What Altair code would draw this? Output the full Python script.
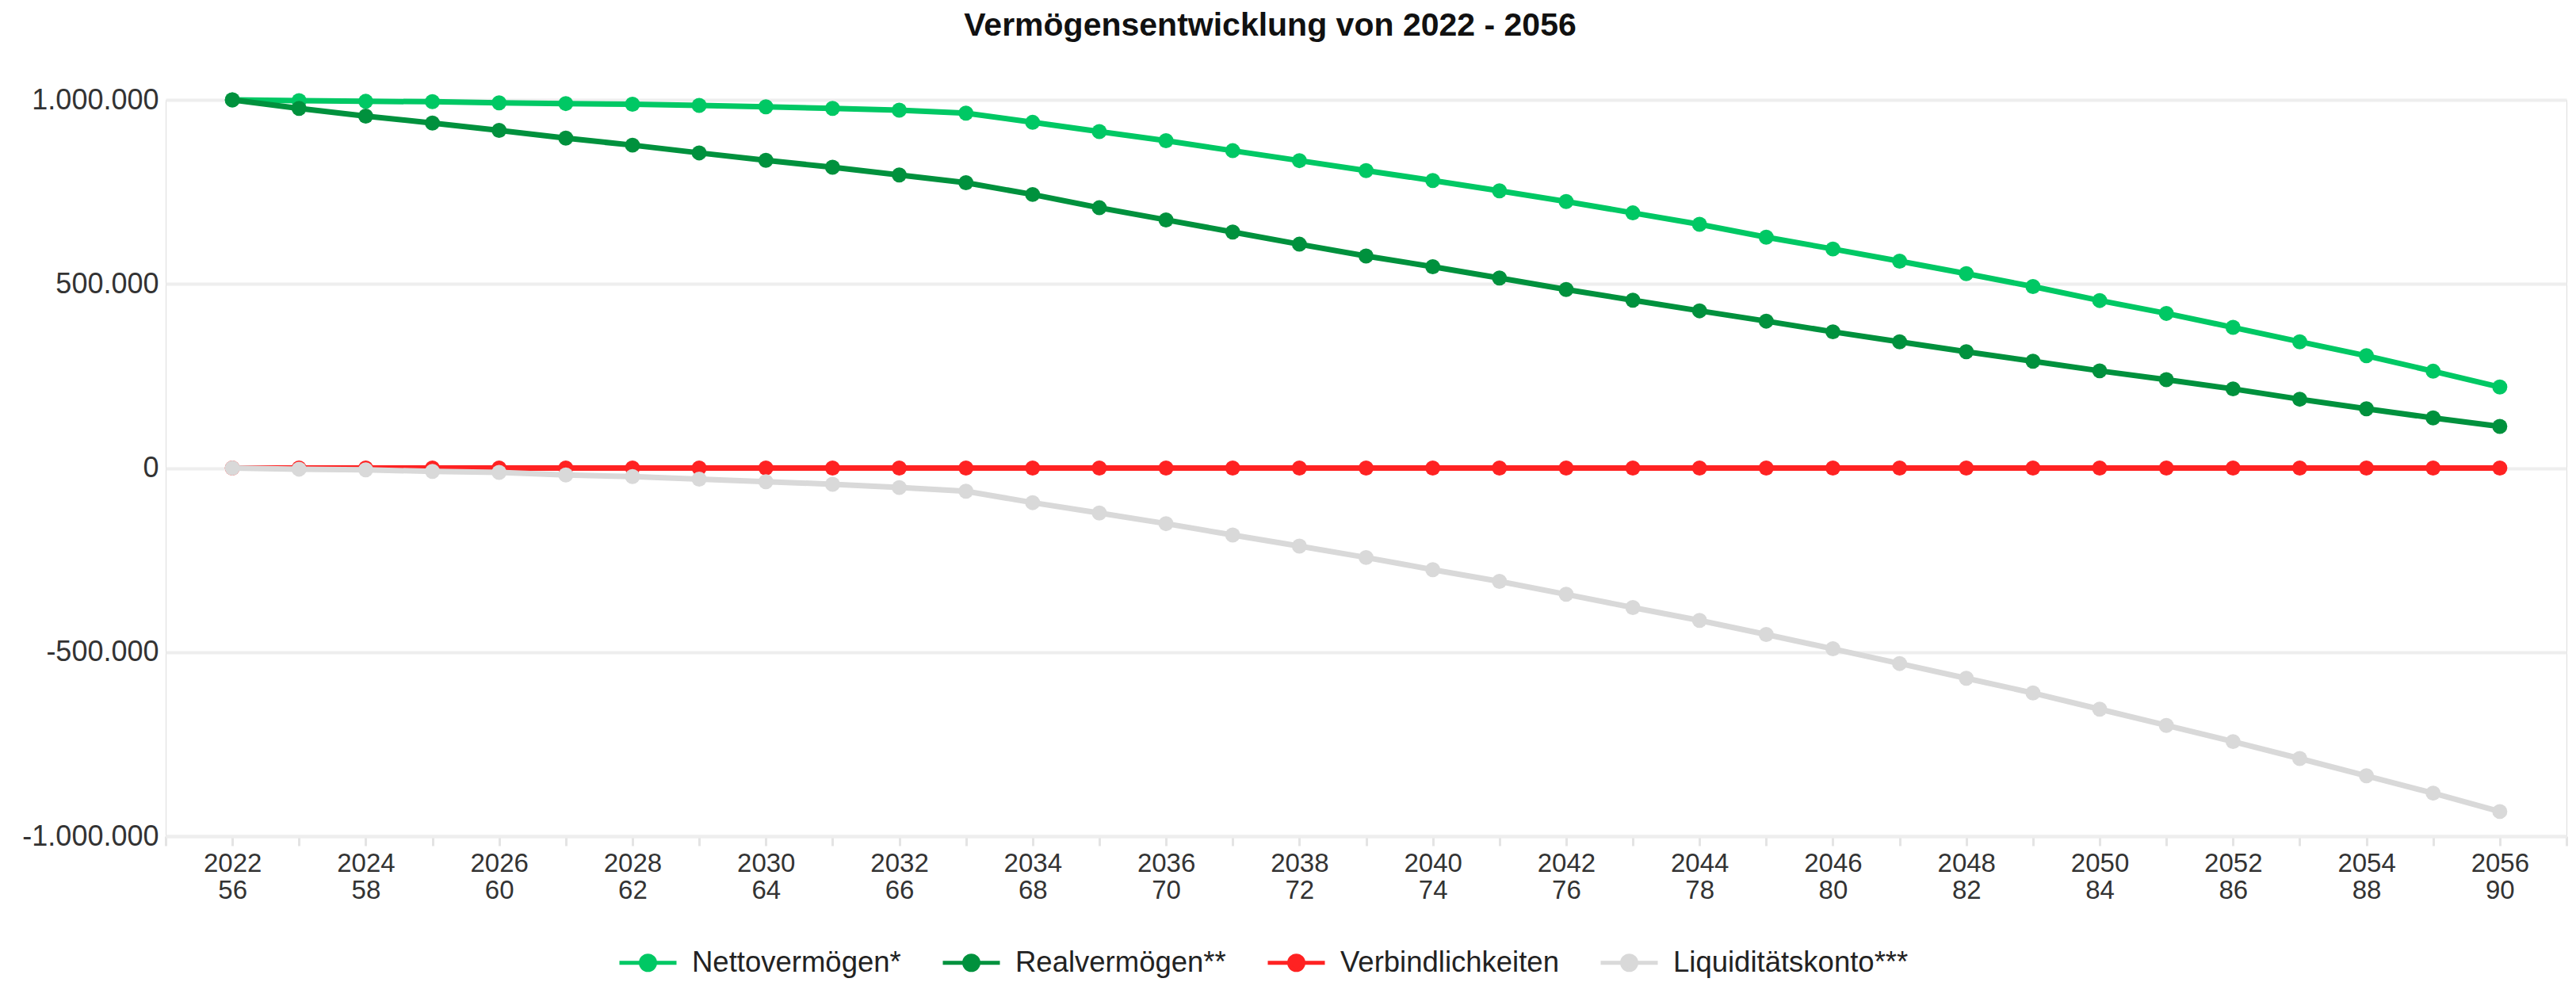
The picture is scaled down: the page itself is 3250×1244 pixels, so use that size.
import altair as alt
import pandas as pd

# ---------------- data ----------------
years = [2022, 2023, 2024, 2025, 2026, 2027, 2028, 2029, 2030, 2031, 2032, 2033,
         2034, 2035, 2036, 2037, 2038, 2039, 2040, 2041, 2042, 2043, 2044,
         2045, 2046, 2047, 2048, 2049, 2050, 2051, 2052, 2053, 2054, 2055, 2056]

netto = [1000000, 998000, 996000, 995000, 992000, 990000, 988000, 985000, 981000, 977000, 972000, 964000,
         939000, 914000, 889000, 862000, 835000, 808000, 781000, 753000, 724000, 693000, 662000,
         627000, 595000, 562000, 528000, 493000, 455000, 420000, 382000, 343000, 305000, 263000, 220000]

real = [1000000, 977000, 956000, 937000, 917000, 896000, 877000, 856000, 836000, 817000, 796000, 775000,
        743000, 707000, 674000, 641000, 608000, 576000, 547000, 516000, 485000, 456000, 427000,
        399000, 370000, 343000, 316000, 290000, 264000, 240000, 215000, 187000, 161000, 136000, 113000]

verbindlichkeiten = [0, 0, 0, 0, 0, 0, 0, 0, 0, 0, 0, 0,
                     0, 0, 0, 0, 0, 0, 0, 0, 0, 0, 0,
                     0, 0, 0, 0, 0, 0, 0, 0, 0, 0, 0, 0]

liquiditaet = [0, -3000, -5000, -9000, -12000, -19000, -23000, -30000, -37000, -44000, -53000, -63000,
               -94000, -122000, -151000, -182000, -212000, -243000, -276000, -308000, -343000, -379000, -414000,
               -452000, -491000, -531000, -571000, -611000, -655000, -699000, -743000, -789000, -836000, -883000, -933000]

series_names = ["Nettovermögen*", "Realvermögen**", "Verbindlichkeiten", "Liquiditätskonto***"]
series_colors = ["#00C864", "#00913D", "#FF2222", "#D9D9D9"]

# tick labels of the x axis (year / age)
label_years = [2022, 2024, 2026, 2028, 2030, 2032, 2034, 2036, 2038, 2040, 2042, 2044, 2046, 2048, 2050, 2052, 2054, 2056]
label_ages = [56, 58, 60, 62, 64, 66, 68, 70, 72, 74, 76, 78, 80, 82, 84, 86, 88, 90]
tick_years = [2021] + years + [2057]
y_ticks = [-1000000, -500000, 0, 500000, 1000000]

# ---------------- table ----------------
rows = []
for name, vals in zip(series_names, [netto, real, verbindlichkeiten, liquiditaet]):
    for yr, v in zip(years, vals):
        rows.append({"Jahr": yr, "Wert": v, "Reihe": name})
df = pd.DataFrame(rows)

FONT = "Liberation Sans"

x_label_expr = (
    f"indexof({label_years}, datum.value) >= 0 ? "
    f"[toString(datum.value), toString({label_ages}[indexof({label_years}, datum.value)])] : ''"
)
y_label_expr = "replace(replace(replace(format(datum.value, ','), ',', '.'), ',', '.'), '\u2212', '-')"

x_enc = alt.X(
    "Jahr:Q",
    scale=alt.Scale(domain=[2021, 2057], nice=False, zero=False),
    axis=alt.Axis(
        values=tick_years, labelExpr=x_label_expr, title=None, grid=False,
        tickSize=12, tickColor="#E4E4E4", tickWidth=3,
        domainColor="#EEEEEE", domainWidth=4,
        labelFont=FONT, labelFontSize=33, labelColor="#333333",
        labelLineHeight=34, labelPadding=6, labelOverlap=False, labelFlush=False,
    ),
)
y_enc = alt.Y(
    "Wert:Q",
    scale=alt.Scale(domain=[-1000000, 1000000], nice=False),
    axis=alt.Axis(
        values=y_ticks, labelExpr=y_label_expr, title=None,
        ticks=False, domain=False, gridColor="#EEEEEE", gridWidth=4,
        labelFont=FONT, labelFontSize=36, labelColor="#333333", labelPadding=9,
    ),
)

legend = alt.Legend(
    title=None, orient="none", legendX=570, legendY=1050, direction="horizontal",
    symbolType="M-1,0L1,0M-0.25,0A0.25,0.25 0 1,1 0.25,0A0.25,0.25 0 1,1 -0.25,0Z",
    symbolSize=5184, symbolStrokeWidth=5,
    labelFont=FONT, labelFontSize=36.5, labelColor="#222222", labelOffset=17,
    labelLimit=800, columnPadding=42, padding=0,
)
scale = alt.Scale(domain=series_names, range=series_colors)
stroke_enc = alt.Stroke("Reihe:N", scale=scale, legend=legend)
fill_enc = alt.Fill("Reihe:N", scale=scale, legend=legend)

layers = []
for name in series_names:
    base = alt.Chart(df).transform_filter(alt.datum.Reihe == name).encode(x=x_enc, y=y_enc)
    layers.append(base.mark_line(strokeWidth=7).encode(stroke=stroke_enc))
    layers.append(base.mark_point(filled=True, size=360, opacity=1, shape="circle", strokeWidth=0).encode(fill=fill_enc))

chart = alt.layer(*layers).properties(
    width=3029,
    height=929,
    title=alt.Title(
        "Vermögensentwicklung von 2022 - 2056",
        font=FONT, fontSize=41, fontWeight="bold", color="#111111",
        anchor="middle", dx=-121, offset=54,
    ),
    autosize=alt.AutoSizeParams(type="none"),
    padding={"left": 201, "top": 118, "right": 4, "bottom": 181},
).configure_view(stroke=None).configure(background="white")

chart.save("out.html", embed_options={"renderer": "svg", "actions": False})
